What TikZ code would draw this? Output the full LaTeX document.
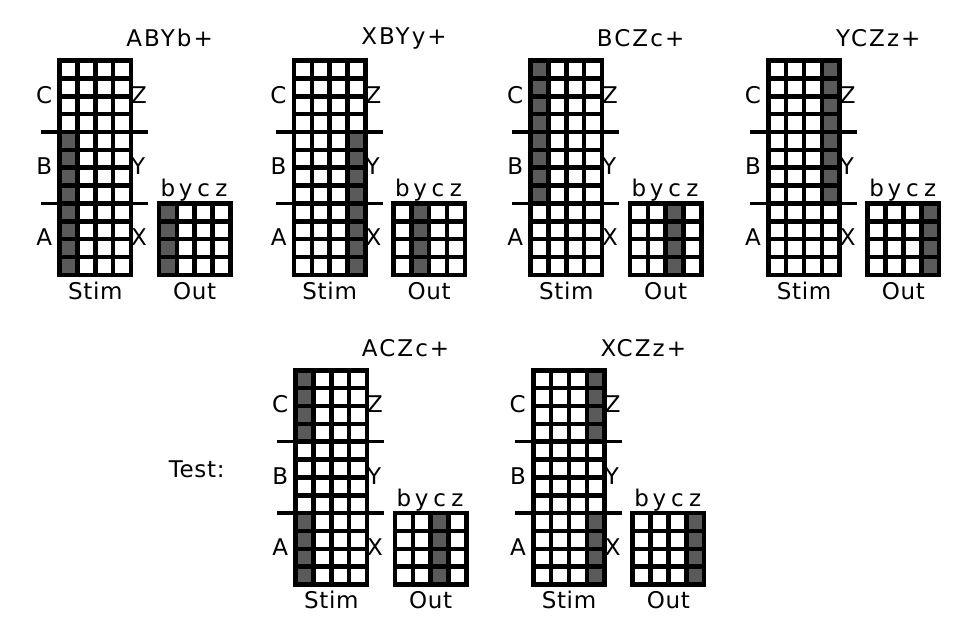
\documentclass[tikz,border=0pt]{standalone}
\usepackage{fontspec}
\setmainfont{DejaVu Sans}[LetterSpace=3]
\newfontfamily\titlefont{DejaVu Sans}[LetterSpace=9]
\definecolor{cellgray}{RGB}{90,90,90}
\def\p{17.85}
\def\ox{99.4}
\tikzset{
  lbl/.style={font=\fontsize{23}{27}\selectfont, inner sep=0pt},
  ttl/.style={font=\titlefont\fontsize{23}{27}\selectfont, inner sep=0pt},
  gridline/.style={line width=4.6pt, line cap=rect},
  sepline/.style={line width=3.4pt},
}
% #1 name, #2 outer left, #3 outer top, #4 title, #5 stim gray column, #6 gray rows, #7 out gray column
\newcommand\stimpanel[7]{%
 \begin{scope}[shift={(#2+2.3,#3+2.3)}]
  \foreach \r in {#6} \fill[cellgray] ({#5*\p},{\r*\p}) rectangle ({(#5+1)*\p},{(\r+1)*\p});
  \foreach \r in {8,...,11} \fill[cellgray] ({\ox+#7*\p},{\r*\p}) rectangle ({\ox+(#7+1)*\p},{(\r+1)*\p});
  \foreach \i in {0,...,4} \draw[gridline] ({\i*\p},0) -- ({\i*\p},{12*\p});
  \foreach \j in {0,...,12} \draw[gridline] (0,{\j*\p}) -- ({4*\p},{\j*\p});
  \foreach \i in {0,...,4} \draw[gridline] ({\ox+\i*\p},{8*\p}) -- ({\ox+\i*\p},{12*\p});
  \foreach \j in {8,...,12} \draw[gridline] (\ox,{\j*\p}) -- ({\ox+4*\p},{\j*\p});
  \draw[sepline] (-18.3,{4*\p}) coordinate (#1-s1a) -- (88.7,{4*\p}) coordinate (#1-s1b);
  \draw[sepline] (-18.3,{8*\p}) coordinate (#1-s2a) -- (88.7,{8*\p}) coordinate (#1-s2b);
  \node[ttl] (#1-title) at (110,-22.3) {#4};
  \node[lbl,anchor=east] (#1-C) at (-7.3,{2*\p-1.5}) {C};
  \node[lbl,anchor=east] (#1-B) at (-7.3,{6*\p-1.5}) {B};
  \node[lbl,anchor=east] (#1-A) at (-7.3,{10*\p-1.5}) {A};
  \node[lbl,anchor=west] (#1-Z) at ({4*\p},{2*\p-1.5}) {Z};
  \node[lbl,anchor=west] (#1-Y) at ({4*\p},{6*\p-1.5}) {Y};
  \node[lbl,anchor=west] (#1-X) at ({4*\p},{10*\p-1.5}) {X};
  \node[lbl,anchor=base] (#1-b) at ({\ox+0.5*\p},136) {b};
  \node[lbl,anchor=base] (#1-y) at ({\ox+1.5*\p},136) {y};
  \node[lbl,anchor=base] (#1-c) at ({\ox+2.5*\p},136) {c};
  \node[lbl,anchor=base] (#1-z) at ({\ox+3.5*\p},136) {z};
  \node[lbl,anchor=base] (#1-stim) at ({2*\p},238.5) {Stim};
  \node[lbl,anchor=base] (#1-out) at ({\ox+2*\p},238.5) {Out};
 \end{scope}}
\begin{document}
\begin{tikzpicture}[x=1pt,y=-1pt]
\fill[white] (0,0) rectangle (973,616);
\useasboundingbox (0,0) rectangle (973,616);
\stimpanel{p1}{57.3}{58.3}{ABYb+}{0}{4,...,11}{0}
\stimpanel{p2}{291.7}{58.3}{XBYy+}{3}{4,...,11}{1}
\stimpanel{p3}{528.3}{58.3}{BCZc+}{0}{0,...,7}{2}
\stimpanel{p4}{766}{58.3}{YCZz+}{3}{0,...,7}{3}
\stimpanel{t1}{293.3}{368}{ACZc+}{0}{0,1,2,3,8,9,10,11}{2}
\stimpanel{t2}{531}{368}{XCZz+}{3}{0,1,2,3,8,9,10,11}{3}
\node[lbl] (test) at (196.7,469) {Test:};
\end{tikzpicture}
\end{document}
